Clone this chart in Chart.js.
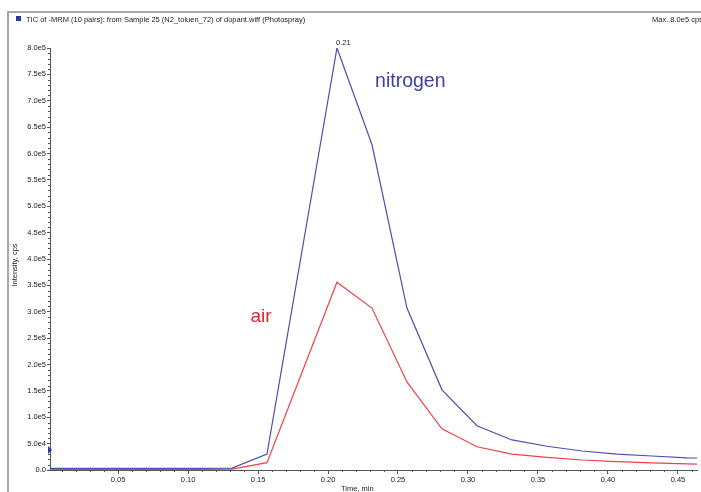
<!DOCTYPE html>
<html>
<head>
<meta charset="utf-8">
<script src="https://cdn.jsdelivr.net/npm/chart.js@4.4.1/dist/chart.umd.min.js"></script>
<style>
  body { margin: 0; background: #fff; }
  canvas { display: block; }
</style>
</head>
<body>
<canvas id="tic" width="701" height="492"></canvas>
<script>
// retention times (min) of the scans
const times = [-0.0186, 0.0064, 0.0314, 0.0564, 0.0814, 0.1064, 0.1314, 0.1564, 0.2064, 0.2314, 0.2564,
               0.2814, 0.3064, 0.3314, 0.3564, 0.3814, 0.4064, 0.4314, 0.4564, 0.4814];
// intensities, cps
const nitrogen = [3000, 3000, 3000, 3000, 3000, 3000, 3500, 30000, 800000, 617000, 307000,
                  152000, 84000, 57000, 45000, 36000, 30000, 26500, 23000, 22000];
const air = [1000, 1000, 1000, 1000, 1000, 1000, 1500, 14000, 356000, 307000, 167000,
             78000, 44000, 30000, 24000, 19000, 16000, 13500, 11500, 10500];

const xTickValues = [0.05, 0.10, 0.15, 0.20, 0.25, 0.30, 0.35, 0.40, 0.45];
const xTickLabels = ['0.05', '0.10', '0.15', '0.20', '0.25', '0.30', '0.35', '0.40', '0.45'];
const yTickValues = [0, 50000, 100000, 150000, 200000, 250000, 300000, 350000, 400000,
                     450000, 500000, 550000, 600000, 650000, 700000, 750000, 800000];
const yTickLabels = ['0.0', '5.0e4', '1.0e5', '1.5e5', '2.0e5', '2.5e5', '3.0e5', '3.5e5', '4.0e5',
                     '4.5e5', '5.0e5', '5.5e5', '6.0e5', '6.5e5', '7.0e5', '7.5e5', '8.0e5'];

const titleText = 'TIC of -MRM (10 pairs): from Sample 25 (N2_toluen_72) of dopant.wiff (Photospray)';
const maxText = 'Max. 8.0e5 cps';
const peakLabel = '0.21';

const tickFont = { family: 'Liberation Sans', size: 7.5 };
const axisCol = '#555';
const blue = '#4b50ad';
const red = '#f0404c';

const decor = {
  id: 'decor',
  beforeDraw(chart) {
    const c = chart.ctx;
    c.save();
    c.fillStyle = '#fff';
    c.fillRect(0, 0, chart.width, chart.height);
    c.strokeStyle = '#a8a8a8';
    c.lineWidth = 2;
    c.beginPath();
    c.moveTo(8, 492); c.lineTo(8, 12); c.lineTo(701, 12);
    c.stroke();
    c.restore();
  },
  afterDraw(chart) {
    const c = chart.ctx;
    const x = chart.scales.x, y = chart.scales.y;
    c.save();
    // header
    c.fillStyle = '#2b3a9a';
    c.fillRect(16, 16, 5, 5);
    c.fillStyle = '#222';
    c.font = '7.5px "Liberation Sans"';
    c.textBaseline = 'alphabetic';
    c.textAlign = 'left';
    c.fillText(titleText, 26, 22);
    c.fillText(maxText, 652, 22);

    // minor ticks
    c.strokeStyle = axisCol;
    c.lineWidth = 1;
    c.beginPath();
    for (let v = 10000; v < 800000; v += 10000) {
      if (v % 50000 === 0) continue;
      const py = Math.round(y.getPixelForValue(v)) + 0.5;
      c.moveTo(y.right - 2, py); c.lineTo(y.right, py);
    }
    for (let v = 0.01; v < x.max; v += 0.01) {
      if (Math.abs(v * 20 - Math.round(v * 20)) < 1e-6) continue;
      const px = Math.round(x.getPixelForValue(v)) + 0.5;
      c.moveTo(px, x.top); c.lineTo(px, x.top + 2);
    }
    c.stroke();

    // small marker on the y axis
    c.fillStyle = '#2b3a9a';
    const my = y.getPixelForValue(38000);
    c.beginPath();
    c.moveTo(y.right - 2, my - 4); c.lineTo(y.right + 2, my); c.lineTo(y.right - 2, my + 4);
    c.closePath(); c.fill();

    // axis titles
    c.fillStyle = '#222';
    c.font = '7.5px "Liberation Sans"';
    c.textAlign = 'left';
    c.fillText('Time, min', 341, 491);
    c.translate(17, 265);
    c.rotate(-Math.PI / 2);
    c.textAlign = 'center';
    c.fillText('Intensity, cps', 0, 0);
    c.restore();

    // annotations
    c.save();
    c.font = '7.5px "Liberation Sans"';
    c.fillStyle = '#222';
    c.textAlign = 'left';
    c.fillText(peakLabel, x.getPixelForValue(times[8]) - 1, 45);
    c.font = '19.5px "Liberation Sans"';
    c.fillStyle = '#3c40a0';
    c.fillText('nitrogen', x.getPixelForValue(0.2336), y.getPixelForValue(726000));
    c.font = '19px "Liberation Sans"';
    c.fillStyle = '#e8222f';
    c.fillText('air', x.getPixelForValue(0.1446), y.getPixelForValue(280000));
    c.restore();
  }
};

new Chart(document.getElementById('tic'), {
  type: 'line',
  data: {
    datasets: [
      {
        label: 'nitrogen',
        data: times.map((t, i) => ({ x: t, y: nitrogen[i] })),
        borderColor: blue,
        borderWidth: 1.2,
        pointRadius: 0,
        tension: 0,
        fill: false
      },
      {
        label: 'air',
        data: times.map((t, i) => ({ x: t, y: air[i] })),
        borderColor: red,
        borderWidth: 1.2,
        pointRadius: 0,
        tension: 0,
        fill: false
      }
    ]
  },
  options: {
    responsive: false,
    animation: false,
    layout: { padding: { left: 0, right: 4, top: 48, bottom: 0 } },
    plugins: {
      legend: { display: false },
      tooltip: { enabled: false },
      title: { display: false }
    },
    scales: {
      x: {
        type: 'linear',
        min: 0.0014,
        max: 0.4636,
        afterBuildTicks: s => { s.ticks = xTickValues.map(v => ({ value: v })); },
        afterFit: s => { s.height = 22; },
        ticks: {
          autoSkip: false,
          maxRotation: 0,
          padding: 1,
          color: '#222',
          font: tickFont,
          callback: (v, i) => xTickLabels[i]
        },
        grid: { drawOnChartArea: false, drawTicks: true, tickLength: 4, tickColor: axisCol },
        border: { display: true, color: axisCol, width: 1 }
      },
      y: {
        type: 'linear',
        min: 0,
        max: 800000,
        afterBuildTicks: s => { s.ticks = yTickValues.map(v => ({ value: v })); },
        afterFit: s => { s.width = 50; },
        ticks: {
          autoSkip: false,
          padding: 1,
          color: '#222',
          font: tickFont,
          callback: (v, i) => yTickLabels[i]
        },
        grid: { drawOnChartArea: false, drawTicks: true, tickLength: 3, tickColor: axisCol },
        border: { display: true, color: axisCol, width: 1 }
      }
    }
  },
  plugins: [decor]
});
</script>
</body>
</html>
